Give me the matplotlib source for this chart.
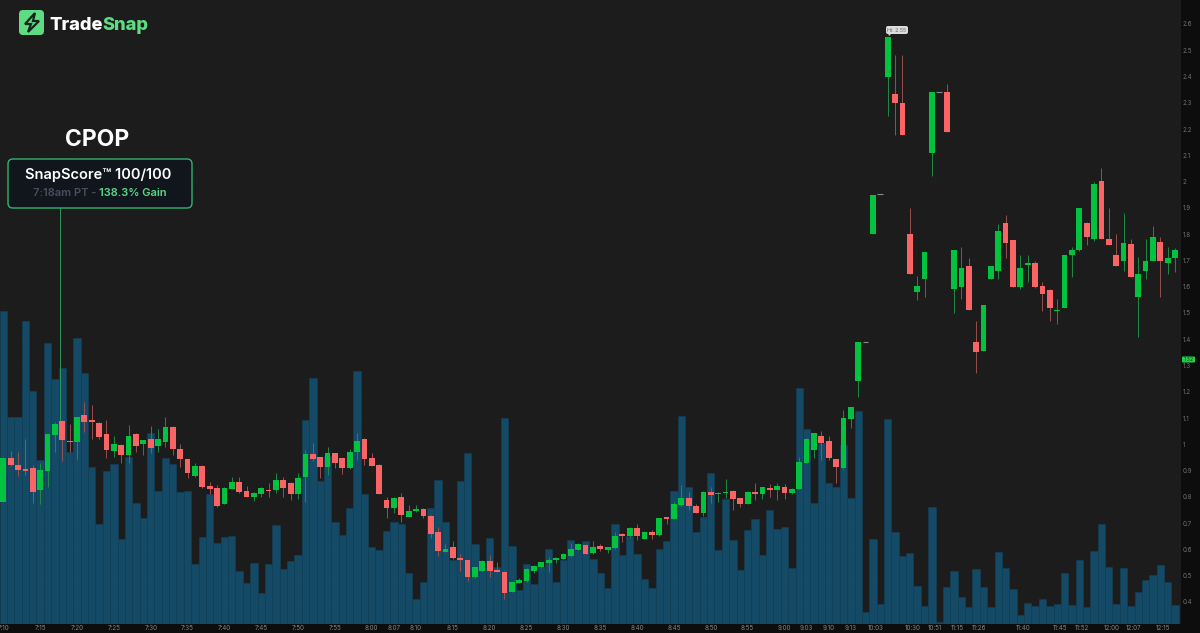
import numpy as np
import matplotlib
matplotlib.use("Agg")
import matplotlib.pyplot as plt
from matplotlib.patches import FancyBboxPatch, Polygon

plt.rcParams["font.family"] = ["Inter", "DejaVu Sans"]

# time axis labels and the bar they sit under
time_labels = ["7:10", "7:15", "7:20", "7:25", "7:30", "7:35", "7:40", "7:45", "7:50", "7:55",
               "8:00", "8:07", "8:10", "8:15", "8:20", "8:25", "8:30", "8:35", "8:40", "8:45",
               "8:50", "8:55", "9:00", "9:03", "9:10", "9:13", "10:03", "10:30", "10:51", "11:15",
               "11:26", "11:40", "11:45", "11:52", "12:00", "12:07", "12:15"]
time_bars = [0, 5, 10, 15, 20, 25, 30, 35, 40, 45,
             50, 53, 56, 61, 66, 71, 76, 81, 86, 91,
             96, 101, 106, 109, 112, 115, 118.4, 123.4, 126.4, 129.4,
             132.4, 138.4, 143.4, 146.4, 150.4, 153.4, 157.4]

price_ticks = [0.4, 0.5, 0.6, 0.7, 0.8, 0.9, 1.0, 1.1, 1.2, 1.3, 1.4, 1.5,
               1.6, 1.7, 1.8, 1.9, 2.0, 2.1, 2.2, 2.3, 2.4, 2.5, 2.6]
price_labels = ["0.4", "0.5", "0.6", "0.7", "0.8", "0.9", "1", "1.1", "1.2", "1.3", "1.4", "1.5",
                "1.6", "1.7", "1.8", "1.9", "2", "2.1", "2.2", "2.3", "2.4", "2.5", "2.6"]

volume = [313, 207, 207, 303, 233, 164, 281, 245, 256, 172, 286, 251, 157, 100, 153, 160,
          85, 167, 121, 106, 191, 133, 166, 160, 132, 133, 60, 87, 130, 81, 87, 88,
          53, 41, 61, 31, 60, 99, 55, 63, 69, 204, 246, 143, 168, 102, 89, 116,
          253, 130, 77, 74, 93, 102, 100, 51, 25, 42, 116, 144, 102, 64, 143, 171,
          80, 56, 86, 57, 206, 78, 34, 60, 40, 57, 75, 42, 64, 84, 74, 83,
          65, 51, 36, 100, 69, 88, 70, 45, 36, 75, 83, 133, 208, 137, 92, 107,
          151, 74, 125, 84, 54, 94, 105, 69, 114, 95, 97, 56, 236, 195, 121, 181,
          141, 137, 179, 126, 213, 12, 85, 20, 205, 92, 68, 71, 38, 18, 117, 2,
          37, 53, 27, 17, 55, 37, 17, 72, 56, 35, 9, 21, 18, 25, 18, 20,
          51, 19, 64, 17, 73, 100, 57, 20, 56, 18, 32, 44, 49, 59, 42, 19]

opens = [.781, .946, .922, .907, .908, .826, .898, 1.035, 1.088, 1.012, 1.010, 1.110, 1.091, 1.082, 1.041, .975,
         .996, .958, 1.041, 1.000, 1.021, .993, 1.010, 1.067, .982, .945, .880, .918, .841, .832, .774, .831,
         .857, .821, .799, .812, .826, .826, .865, .852, .810, .877, .962, .950, .915, .967, .947, .909,
         .969, 1.021, .948, .923, .788, .756, .799, .723, .746, .754, .727, .665, .591, .608, .567, .558,
         .494, .519, .554, .520, .515, .438, .473, .480, .518, .533, .548, .560, .565, .575, .599, .617,
         .585, .612, .599, .604, .657, .651, .683, .641, .666, .653, .723, .717, .769, .796, .765, .740,
         .818, .810, .816, .822, .794, .774, .820, .812, .832, .826, .838, .813, .830, .930, .978, 1.032,
         1.011, .943, .910, 1.098, 1.241, 1.390, 1.799, 1.951, 2.399, 2.332, 2.300, 1.802, 1.579, 1.629, 2.110, 2.342,
         2.341, 1.591, 1.600, 1.680, 1.390, 1.354, 1.629, 1.659, 1.841, 1.776, 1.600, 1.684, 1.691, 1.601, 1.587, 1.507,
         1.520, 1.719, 1.739, 1.841, 1.780, 2.001, 1.781, 1.720, 1.699, 1.761, 1.559, 1.658, 1.699, 1.771, 1.689, 1.709]

closes = [.946, .921, .904, .899, .819, .902, 1.039, 1.079, 1.015, 1.008, 1.102, 1.085, 1.083, 1.029, .978, 1.001,
          .960, 1.031, .994, 1.017, .986, 1.021, 1.067, .983, .945, .889, .916, .836, .829, .766, .833, .857,
          .818, .800, .814, .833, .821, .865, .835, .812, .870, .962, .944, .915, .968, .929, .909, .971,
          1.011, .944, .919, .810, .756, .797, .730, .745, .754, .728, .660, .594, .601, .568, .560, .496,
          .532, .554, .516, .514, .433, .475, .482, .524, .538, .551, .560, .568, .581, .600, .620, .584,
          .610, .600, .608, .652, .650, .683, .650, .666, .653, .718, .717, .773, .794, .765, .740, .818,
          .808, .815, .820, .792, .774, .818, .811, .836, .826, .843, .813, .830, .933, 1.021, 1.042, 1.005,
          .948, .914, 1.099, 1.141, 1.390, 1.390, 1.950, 1.951, 2.550, 2.300, 2.178, 1.648, 1.602, 1.730, 2.341, 2.342,
          2.189, 1.741, 1.670, 1.510, 1.350, 1.531, 1.680, 1.810, 1.765, 1.600, 1.672, 1.689, 1.600, 1.571, 1.520, 1.511,
          1.720, 1.741, 1.899, 1.789, 1.991, 1.780, 1.758, 1.678, 1.766, 1.638, 1.650, 1.696, 1.790, 1.699, 1.710, 1.741]

highs = [.953, .975, .972, 1.022, .921, .930, 1.039, 1.086, 1.092, 1.079, 1.105, 1.162, 1.149, 1.086, 1.092, 1.031,
         1.001, 1.072, 1.044, 1.017, 1.069, 1.060, 1.102, 1.069, 1.001, .945, .927, .921, .857, .845, .836, .876,
         .876, .841, .817, .838, .851, .892, .876, .857, .892, .978, 1.004, .953, .989, .968, .949, .981,
         1.044, 1.024, .966, .925, .801, .799, .813, .768, .768, .759, .730, .686, .621, .632, .581, .560,
         .534, .560, .579, .551, .518, .477, .490, .528, .541, .553, .572, .572, .585, .623, .623, .619,
         .632, .621, .610, .667, .664, .686, .697, .669, .672, .721, .725, .782, .845, .820, .772, .821,
         .839, .817, .869, .825, .797, .821, .851, .839, .849, .851, .849, .832, .950, 1.024, 1.044, 1.052,
         1.032, .945, 1.131, 1.143, 1.390, 1.390, 1.950, 1.951, 2.550, 2.482, 2.482, 1.899, 1.640, 1.730, 2.341, 2.342,
         2.371, 1.741, 1.749, 1.710, 1.470, 1.531, 1.680, 1.838, 1.871, 1.776, 1.720, 1.720, 1.697, 1.619, 1.592, 1.552,
         1.720, 1.749, 1.899, 1.847, 2.000, 2.050, 1.899, 1.802, 1.881, 1.780, 1.711, 1.781, 1.831, 1.790, 1.752, 1.746]

lows = [.779, .918, .880, .883, .777, .772, .838, .972, .935, .972, .942, 1.048, 1.019, 1.022, .948, .950,
        .930, .927, .969, .959, .965, .972, .991, .959, .912, .870, .876, .832, .810, .762, .771, .828,
        .813, .798, .784, .800, .800, .813, .798, .788, .790, .779, .936, .871, .883, .909, .887, .907,
        .940, .921, .916, .810, .718, .737, .703, .722, .744, .718, .645, .575, .589, .563, .519, .481,
        .491, .518, .494, .513, .410, .437, .471, .477, .509, .528, .515, .549, .562, .572, .598, .581,
        .582, .595, .588, .601, .629, .648, .636, .638, .638, .652, .697, .714, .766, .750, .739, .727,
        .775, .779, .796, .750, .763, .773, .788, .791, .801, .788, .791, .812, .829, .928, .947, .940,
        .940, .854, .907, 1.061, 1.179, 1.390, 1.799, 1.951, 2.249, 2.178, 2.178, 1.648, 1.549, 1.559, 2.022, 2.342,
        2.189, 1.498, 1.552, 1.510, 1.270, 1.354, 1.629, 1.629, 1.708, 1.600, 1.592, 1.619, 1.593, 1.508, 1.468, 1.458,
        1.520, 1.638, 1.736, 1.758, 1.772, 1.780, 1.758, 1.678, 1.661, 1.638, 1.409, 1.628, 1.699, 1.559, 1.650, 1.657]

bg = "#1c1c1c"
strip = "#0d0d0d"
up = "#02c23f"
down = "#fb6464"
vol_color = "#144a66"

x = np.arange(len(volume))
o = np.array(opens)
c = np.array(closes)
h = np.array(highs)
l = np.array(lows)
is_up = c >= o
is_flat = np.abs(c - o) < 0.0005

fig = plt.figure(figsize=(12, 6.33), dpi=100, facecolor=strip)
ax = fig.add_axes([0, 9 / 633, 1181 / 1200, 624 / 633])
ax_vol = ax.twinx()
ax.set_zorder(2)
ax_vol.set_zorder(1)
ax.patch.set_visible(False)
ax_vol.patch.set_visible(True)  # twinx hides it
ax_vol.set_facecolor(bg)

# volume behind the candles
ax_vol.bar(x, volume, width=1.0, color=vol_color, edgecolor="#114059", linewidth=0.4)
ax_vol.set_ylim(0, 624)
ax_vol.set_yticks([])
for s in ax_vol.spines.values():
    s.set_visible(False)

# wicks, then bodies
ax.vlines(x[is_up & ~is_flat], l[is_up & ~is_flat], h[is_up & ~is_flat], color="#1f8a45", linewidth=0.7, zorder=3)
ax.vlines(x[~is_up], l[~is_up], h[~is_up], color="#96504f", linewidth=0.7, zorder=3)
ax.bar(x[is_up & ~is_flat], (c - o)[is_up & ~is_flat], bottom=o[is_up & ~is_flat], width=0.78, color=up, zorder=4)
ax.bar(x[~is_up], (o - c)[~is_up], bottom=c[~is_up], width=0.78, color=down, zorder=4)
ax.hlines(c[is_flat], x[is_flat] - 0.39, x[is_flat] + 0.39, color="#8a8a8a", linewidth=0.8, zorder=4)

ax.set_xlim(-0.448, 159.8)
ax.set_ylim(0.316, 2.691)
ax.yaxis.tick_right()
ax.set_yticks(price_ticks)
ax.set_yticklabels(price_labels)
ax.set_xticks(time_bars)
ax.set_xticklabels(time_labels)
ax.tick_params(axis="y", length=0, pad=1, labelsize=4.5, labelcolor="#707070")
ax.tick_params(axis="x", length=0, pad=1, labelsize=4.5, labelcolor="#858585")
ax.grid(True, color="white", alpha=0.012, linewidth=0.5)
ax.set_axisbelow(False)
for s in ax.spines.values():
    s.set_visible(False)

# overlay in image pixels for the branding and callouts
over = fig.add_axes([0, 0, 1, 1], zorder=5)
over.set_xlim(0, 1200)
over.set_ylim(633, 0)
over.axis("off")

over.add_patch(FancyBboxPatch((21, 12), 21, 21, boxstyle="round,pad=2,rounding_size=4", fc="#5edc82", ec="none"))
over.add_patch(Polygon([(35, 13), (25, 24), (31, 24), (28, 32), (39, 21), (33, 21)], closed=True,
                       fc="#5edc82", ec="#16241b", linewidth=1.6))
t1 = over.text(49, 30.5, "Trade", color="white", fontsize=13.2, fontweight="heavy", va="baseline")
fig.canvas.draw()
snap_x = over.transData.inverted().transform(t1.get_window_extent().extents[2:])[0]
over.text(snap_x, 30.5, "Snap", color="#5edc82", fontsize=13.2, fontweight="heavy", va="baseline")

over.text(97, 139.5, "CPOP", color="white", fontsize=16.5, fontweight="bold", ha="center", va="center")
over.add_patch(FancyBboxPatch((12, 163), 176, 41, boxstyle="round,pad=4,rounding_size=5",
                              fc="#11161d", ec="#2fb56d", linewidth=1.0))
over.text(98, 174.5, "SnapScore\u2122 100/100", color="white", fontsize=10.5, fontweight="semibold",
          ha="center", va="center")
t2 = over.text(33, 196, "7:18am PT - ", color="#474e60", fontsize=8.0, fontweight="semibold", va="baseline")
fig.canvas.draw()
gain_x = over.transData.inverted().transform(t2.get_window_extent().extents[2:])[0]
over.text(gain_x, 196, "138.3% Gain", color="#5ed68a", fontsize=8.0, fontweight="semibold", va="baseline")
over.plot([59.7, 59.7], [208, 420], color="#2fa865", linewidth=0.6)

# high and last price tags
over.add_patch(FancyBboxPatch((887, 27), 20, 6, boxstyle="round,pad=1,rounding_size=2", fc="#dcdcdc", ec="none"))
over.add_patch(Polygon([(888, 33), (892, 33), (889, 36)], closed=True, fc="#dcdcdc", ec="none"))
over.text(897, 30, "Hi: 2.55", color="#666666", fontsize=3.8, ha="center", va="center")
over.add_patch(FancyBboxPatch((1182.5, 357), 12, 5, boxstyle="round,pad=0.5,rounding_size=1", fc="#1fd14a", ec="none"))
over.text(1188.5, 359.5, "1.32", color="#0c4a1e", fontsize=3.8, ha="center", va="center")

fig.savefig("out.png", dpi=100, facecolor=fig.get_facecolor())
